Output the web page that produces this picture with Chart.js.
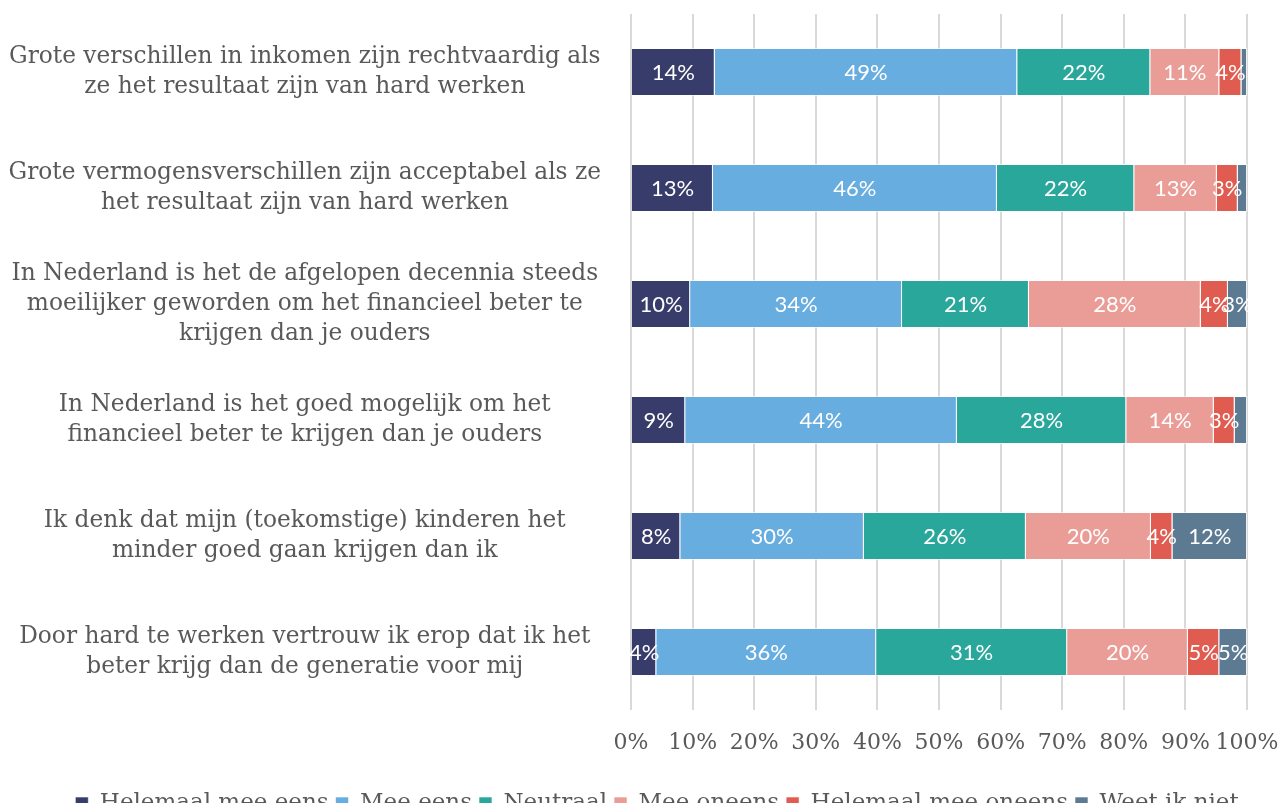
<!DOCTYPE html>
<html>
<head>
<meta charset="utf-8">
<script src="https://cdn.jsdelivr.net/npm/chart.js@4/dist/chart.umd.min.js"></script>
<style>
  html, body { margin: 0; padding: 0; background: #fff; overflow: hidden; }
  #wrap { width: 1283px; height: 830px; }
</style>
</head>
<body>
<div id="wrap"><canvas id="chart"></canvas></div>
<script>
// vragen (categorieën)
const categories = [
  ['Grote verschillen in inkomen zijn rechtvaardig als', 'ze het resultaat zijn van hard werken'],
  ['Grote vermogensverschillen zijn acceptabel als ze', 'het resultaat zijn van hard werken'],
  ['In Nederland is het de afgelopen decennia steeds', 'moeilijker geworden om het financieel beter te', 'krijgen dan je ouders'],
  ['In Nederland is het goed mogelijk om het', 'financieel beter te krijgen dan je ouders'],
  ['Ik denk dat mijn (toekomstige) kinderen het', 'minder goed gaan krijgen dan ik'],
  ['Door hard te werken vertrouw ik erop dat ik het', 'beter krijg dan de generatie voor mij']
];

// percentages per antwoord
const helemaalMeeEens   = [13.6, 13.3,  9.6,  8.8,  8.0,  4.1];
const meeEens           = [49.1, 46.1, 34.4, 44.1, 29.8, 35.7];
const neutraal          = [21.6, 22.3, 20.6, 27.5, 26.3, 31.0];
const meeOneens         = [11.2, 13.4, 27.9, 14.2, 20.3, 19.6];
const helemaalMeeOneens = [ 3.6,  3.4,  4.4,  3.4,  3.5,  5.1];
const weetIkNiet        = [ 0.9,  1.5,  3.1,  2.0, 12.1,  4.5];

const xTicks = [0, 10, 20, 30, 40, 50, 60, 70, 80, 90, 100];

const serif = '"DejaVu Serif", serif';
const grey = '#595959';

// witte percentages in de balken
const barLabels = {
  id: 'barLabels',
  afterLayout(chart) {
    // labels van de y-as niet afknippen op de linker marge
    chart.scales.y.left = 0;
  },
  afterDatasetsDraw(chart) {
    const ctx = chart.ctx;
    ctx.save();
    ctx.fillStyle = '#ffffff';
    ctx.font = '22px Lato, sans-serif';
    ctx.textAlign = 'center';
    ctx.textBaseline = 'middle';
    chart.data.datasets.forEach((ds, i) => {
      const meta = chart.getDatasetMeta(i);
      meta.data.forEach((el, j) => {
        const v = ds.data[j];
        if (v < 2.5) return;
        ctx.fillText(Math.round(v) + '%', (el.x + el.base) / 2, el.y + 1);
      });
    });
    ctx.restore();
  }
};

const mk = (label, data, color) => ({
  label, data,
  backgroundColor: color,
  borderColor: 'rgba(255,255,255,0.6)',
  borderWidth: 1,
  barPercentage: 0.414,
  categoryPercentage: 1
});

new Chart(document.getElementById('chart'), {
  type: 'bar',
  data: {
    labels: categories,
    datasets: [
      mk('Helemaal mee eens', helemaalMeeEens, '#383c6a'),
      mk('Mee eens', meeEens, '#68ade0'),
      mk('Neutraal', neutraal, '#2aa79b'),
      mk('Mee oneens', meeOneens, '#ea9d97'),
      mk('Helemaal mee oneens', helemaalMeeOneens, '#e05c50'),
      mk('Weet ik niet', weetIkNiet, '#5d7a93')
    ]
  },
  options: {
    indexAxis: 'y',
    responsive: true,
    maintainAspectRatio: false,
    animation: false,
    layout: { padding: { top: 14, right: 0, left: 31, bottom: 5 } },
    plugins: {
      legend: {
        position: 'bottom',
        labels: {
          color: grey,
          font: { family: serif, size: 23 },
          boxWidth: 13,
          boxHeight: 13,
          padding: 7
        }
      },
      tooltip: { enabled: false }
    },
    scales: {
      x: {
        stacked: true,
        min: 0, max: 100,
        afterBuildTicks(axis) { axis.ticks = xTicks.map(v => ({ value: v })); },
        afterFit(axis) {
          axis.height = 75;
          axis.paddingLeft = 0;
          axis.paddingRight = 36;
        },
        grid: { color: '#d9d9d9', lineWidth: 2, drawTicks: false },
        border: { display: false },
        ticks: {
          color: grey,
          font: { family: serif, size: 22 },
          padding: 20,
          autoSkip: false,
          maxRotation: 0,
          callback: v => v + '%'
        }
      },
      y: {
        stacked: true,
        afterFit(axis) {
          axis.width = 600;
          axis.paddingTop = 0;
          axis.paddingBottom = 0;
        },
        grid: { display: false, drawTicks: false },
        border: { display: false },
        ticks: {
          color: grey,
          font: { family: serif, size: 23.3, lineHeight: 1.27 },
          crossAlign: 'center',
          padding: 30,
          autoSkip: false
        }
      }
    }
  },
  plugins: [barLabels]
});
</script>
</body>
</html>
